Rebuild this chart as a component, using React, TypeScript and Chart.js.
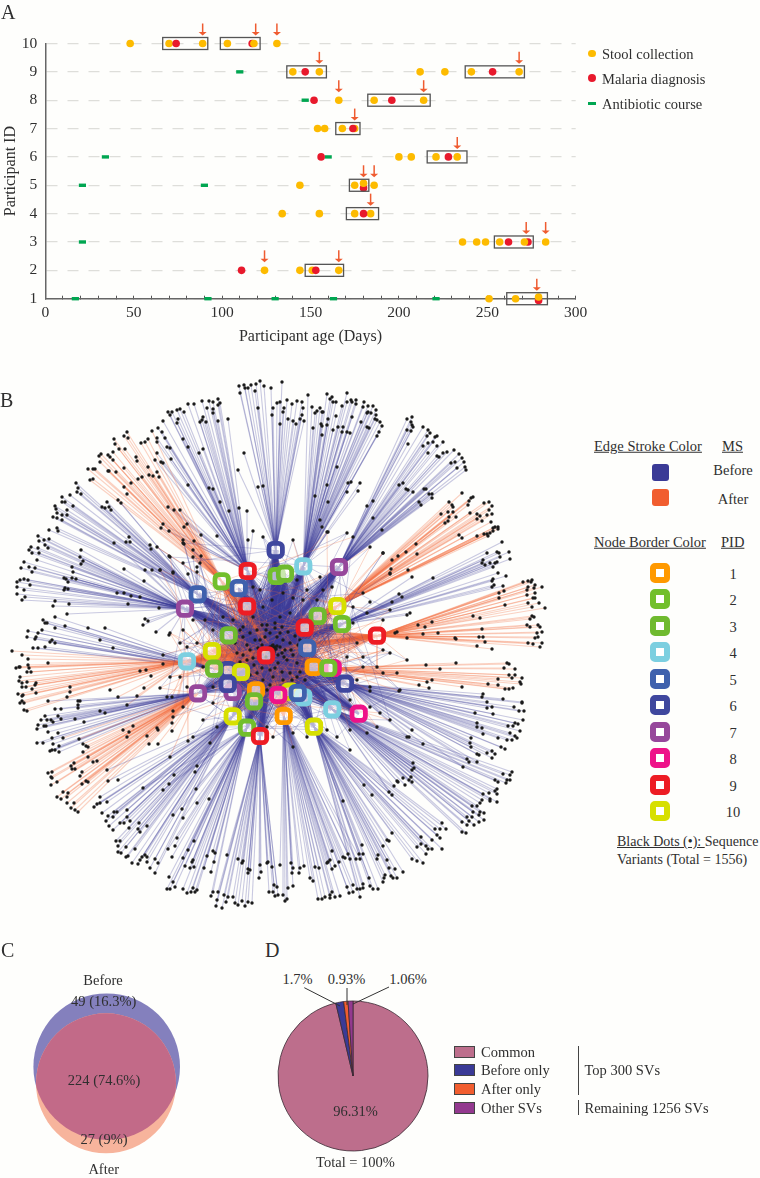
import React, { useEffect, useRef } from "react";
import { Chart, registerables } from "chart.js";

Chart.register(...registerables);

type Pt = [number, number];

const SERIF = "'Liberation Serif', serif";
const INK = "#2f2f2f";
const BEFORE = "#3A3A96";
const AFTER = "#F15D2F";

/* ---------- Panel A ---------- */
const stoolCollection: Pt[] = [
  [48, 10], [70, 10], [89, 10], [103, 10], [131, 10],
  [140, 9], [155, 9], [212, 9], [226, 9], [241, 9], [268, 9],
  [166, 8], [186, 8], [214, 8],
  [154, 7], [158, 7], [168, 7], [175, 7],
  [200, 6], [207, 6], [221, 6], [233, 6],
  [144, 5], [175, 5], [186, 5],
  [134, 4], [155, 4], [175, 4], [184, 4],
  [236, 3], [244, 3], [249, 3], [257, 3], [283, 3],
  [124, 2], [144, 2], [151, 2], [166, 2],
  [251, 1], [266, 1],
];
const stoolOverMalaria: Pt[] = [[118, 10], [180, 5.07], [271, 3], [279, 1.06]];
const malariaDiagnosis: Pt[] = [
  [74, 10], [117, 10], [147, 9], [253, 9], [152, 8], [196, 8], [174, 7], [156, 6], [228, 6],
  [180, 4.9], [180, 4], [262, 3], [273, 3], [111, 2], [153, 2], [279, 0.94],
];
const antibioticCourse: Pt[] = [
  [110, 9], [147, 8], [34, 6], [160, 6], [21, 5], [90, 5], [21, 3],
  [17, 1], [92, 1], [130, 1], [163, 1], [221, 1],
];
const sampleBoxes: [number, number, number][] = [
  [66.4, 91.9, 10], [99, 121.5, 10], [136.6, 159, 9], [237.5, 271, 9], [182.4, 217.7, 8],
  [164.3, 178, 7], [216, 238.5, 6], [172, 183, 5], [170.3, 188.5, 4], [254, 276, 3],
  [147, 168.7, 2], [261, 284, 1],
];
const arrows: Pt[] = [
  [89, 10], [119, 10], [131, 10], [155, 9], [268, 9], [166, 8], [214, 8], [175, 7], [233, 6],
  [180, 5], [186, 5], [184, 4], [272, 3], [283, 3], [124, 2], [166, 2], [278, 1],
];

/* ---------- Panel B: hubs ---------- */
const pidColors = ["#FF9900", "#72BF2C", "#6FBA2F", "#7CCFE0", "#3F61AD", "#3F479E", "#96479B", "#EE1289", "#ED1C24", "#D7DF01"];
const pidLabels = ["1", "2", "3", "4", "5", "6", "7", "8", "9", "10"];
const hubs: Pt[] = [
  [275.7, 550], [247.7, 571], [221.7, 581.3], [238.7, 588], [276.7, 576], [285, 573.7], [303.3, 566.3], [339, 567],
  [197.7, 594.3], [185, 608.7], [247, 606.3], [337.3, 606], [317.7, 616], [342, 624], [304.7, 627.7], [377, 635.7],
  [228.7, 635.3], [307.3, 648], [212, 651], [266, 655.3], [187, 661.3], [332.7, 668], [313.7, 667], [328.3, 668],
  [228, 670], [214, 668.7], [241, 672], [232.7, 692], [227.7, 684], [198, 693.3], [345, 683.7], [290, 691.7],
  [256, 690.3], [303.3, 697.3], [278.3, 695], [297.7, 693], [254, 701.3], [332.3, 709.3], [358.7, 713.7], [283.7, 716],
  [232.7, 716.3], [314, 726.7], [247, 727.7], [260, 736],
];
const hubPid = [6, 9, 2, 5, 2, 3, 4, 7, 5, 7, 9, 10, 3, 2, 9, 9, 3, 5, 10, 9, 4, 8, 1, 2, 6, 3, 10, 7, 6, 7, 6, 10, 1, 4, 8, 5, 3, 4, 8, 1, 10, 10, 2, 9];
const hubAfter = [0, 0, 1, 0, 0, 0, 0, 0, 0, 0, 1, 1, 0, 0, 1, 1, 1, 0, 1, 1, 1, 0, 1, 1, 0, 1, 0, 0, 0, 0, 0, 1, 1, 0, 0, 0, 1, 0, 0, 1, 0, 0, 0, 0];
const heavyHubs: [number, number][] = [
  [0, 6], [6, 5], [7, 7], [8, 6], [9, 6], [13, 5], [30, 6], [37, 5], [38, 3], [41, 5], [43, 6], [28, 5], [20, 4], [15, 5], [25, 3], [42, 4], [2, 3],
];
const heavyTarget: Pt = [272, 650];

/* ---------- Panel B: sequence variants, by fan ---------- */
const leavesA: Pt[] = [[239,386],[244,385],[248,388],[251,385],[256,384],[260,381],[264,386],[240,393],[245,388],[255,391],[258,408],[271,388],[277,403],[273,408],[272,415],[283,412],[244,453],[238,470],[258,487],[263,486],[282,382],[280,402],[287,400],[292,404],[297,401],[302,402],[303,408],[284,408],[302,415],[300,419],[304,421],[288,419],[293,421],[296,424],[280,424]];
const leavesB: Pt[] = [[308,395],[327,394],[332,397],[330,399],[333,402],[336,402],[347,393],[342,406],[347,402],[351,400],[352,402],[356,400],[356,404],[364,402],[368,406],[373,406],[363,407],[376,410],[368,412],[371,413],[367,413],[376,415],[361,422],[375,419],[377,420],[380,422],[382,426],[367,427],[369,428],[379,432],[377,436],[312,407],[317,411],[320,408],[322,412],[323,412],[315,413],[313,428],[321,424],[322,426],[328,419],[336,416],[327,425],[322,435],[333,430],[338,427],[343,427],[342,432],[347,432],[350,433],[352,417],[348,483],[351,482],[360,483],[358,491],[347,492],[337,467],[327,485],[315,496],[328,502],[320,520],[322,527],[328,532]];
const leavesC: Pt[] = [[412,417],[407,419],[411,422],[412,425],[413,427],[407,430],[411,431],[408,444],[423,427],[428,430],[430,433],[427,436],[435,437],[437,436],[433,442],[428,443],[443,442],[423,446],[437,446],[428,453],[447,452],[443,453],[437,456],[439,457],[454,450],[459,454],[462,458],[464,462],[455,462],[451,463],[465,467],[457,468],[466,470],[399,485],[403,483],[406,489],[408,490],[413,492],[424,489],[426,489],[429,494],[432,494],[432,498],[419,502],[421,505],[373,501],[367,506],[373,518],[382,530]];
const leavesD: Pt[] = [[462,493],[473,497],[471,498],[469,501],[468,505],[489,502],[484,503],[492,506],[489,510],[449,502],[452,505],[453,507],[448,512],[453,512],[441,514],[456,517],[449,517],[470,513],[477,514],[480,516],[487,515],[492,514],[482,521],[477,519],[448,521],[445,523],[491,522],[495,527],[498,527],[493,528],[498,529],[493,531],[490,533],[487,534],[488,536],[477,536],[484,534],[459,535],[462,538],[416,544],[406,552],[398,556],[392,560],[417,554],[391,569],[408,570],[390,574],[383,553]];
const leavesE: Pt[] = [[502,542],[509,552],[497,552],[499,553],[487,553],[500,557],[510,559],[483,560],[497,562],[495,563],[482,563],[490,563],[485,565],[493,567],[498,573],[506,576],[493,579],[492,581],[494,585],[503,586],[492,587],[433,578],[412,577],[399,594],[402,597],[392,602],[370,602],[410,613],[407,615]];
const leavesF: Pt[] = [[523,582],[528,581],[532,580],[531,582],[542,587],[528,587],[535,585],[534,588],[527,590],[535,593],[527,595],[533,598],[535,598],[539,603],[528,603],[532,607],[545,608],[504,591],[499,593],[499,598],[505,605],[473,616],[480,618],[532,616],[534,617],[530,619],[527,625],[530,627],[538,625],[540,627],[542,632],[537,633],[535,638],[538,637],[482,629],[455,638],[456,639],[479,637],[483,637],[528,643],[533,644],[542,643],[540,647],[485,642],[477,646],[492,649],[425,627],[438,633],[423,634],[407,638],[397,632],[418,625],[432,622],[395,633]];
const leavesG: Pt[] = [[456,663],[507,663],[504,668],[509,664],[515,669],[509,675],[515,675],[512,678],[522,678],[520,682],[521,684],[498,679],[513,688],[509,689],[505,689],[488,684],[498,685],[462,687],[426,665],[440,669],[432,680],[427,682],[419,685],[429,688],[399,691],[370,691]];
const leavesH: Pt[] = [[483,694],[482,697],[503,699],[522,702],[522,703],[487,702],[492,707],[487,708],[514,707],[519,711],[524,711],[475,713],[493,714],[523,720],[477,723],[515,723],[518,724],[508,726],[477,727],[482,728],[513,726],[520,731],[510,733],[483,734],[515,736],[498,738],[507,740],[512,740],[517,738],[471,738],[470,743],[471,747],[501,747],[505,749],[492,751],[487,753],[495,754],[492,758],[477,754],[479,755],[467,759],[469,762],[477,762],[463,767],[412,730],[423,744],[407,737],[409,737]];
const leavesI: Pt[] = [[512,772],[503,774],[510,775],[495,780],[510,780],[507,780],[498,782],[506,783],[497,789],[495,791],[489,793],[497,794],[483,794],[490,799],[497,802],[490,801],[482,800],[480,803],[472,806],[477,806],[484,813],[480,812],[473,812],[479,815],[467,817],[472,817],[484,820],[479,822],[469,821],[462,822],[474,825],[467,825],[462,832],[466,833],[413,763],[414,768],[412,770],[411,777],[403,778],[409,780],[412,782],[397,781],[398,782],[405,785],[394,786],[389,792],[392,795]];
const leavesJ: Pt[] = [[442,823],[440,829],[435,829],[446,829],[437,835],[440,838],[432,840],[442,849],[432,849],[426,846],[421,837],[421,844],[417,847],[428,849],[426,854],[412,859],[417,861],[423,863],[403,872],[395,869],[389,868],[387,860],[397,878],[393,878],[391,876],[385,875],[384,878],[383,882],[392,833],[387,840],[389,841],[383,846],[372,795],[364,785],[343,801],[362,845],[363,854],[359,854],[369,878],[378,889],[370,886],[373,889],[378,855],[377,859],[363,884],[363,888],[360,889],[357,889],[360,897]];
const leavesK: Pt[] = [[332,851],[330,860],[328,862],[327,863],[343,857],[345,858],[348,854],[350,859],[356,859],[360,859],[339,862],[335,866],[332,869],[315,867],[319,868],[310,878],[313,881],[353,885],[347,887],[353,892],[349,893],[340,896],[335,897],[332,892],[330,895],[325,897],[322,899],[318,899],[330,898],[293,886],[288,888],[283,895],[285,901],[287,899],[293,868],[292,873],[291,863],[300,868],[299,873],[304,866],[280,865]];
const leavesL: Pt[] = [[267,863],[268,862],[260,865],[272,867],[261,872],[259,878],[248,869],[250,870],[248,873],[238,859],[243,861],[242,863],[227,855],[274,885],[277,887],[269,892],[273,892],[278,895],[275,896],[252,903],[248,902],[245,906],[242,901],[238,905],[235,903],[233,897],[222,908],[216,906],[217,900],[218,892],[224,895],[228,897],[226,902]];
const leavesL1: Pt[] = [[213,851],[215,853],[214,862],[211,872],[213,892],[211,896],[197,890],[193,888],[195,892],[187,893],[191,892],[183,889],[175,887],[170,889],[173,882],[167,889],[169,877],[204,868],[207,856],[194,867],[190,868],[193,860],[192,862],[185,866],[183,858],[172,857],[188,850],[194,841],[177,838],[168,849],[175,846],[183,818],[182,809],[173,815],[197,803],[209,799],[163,790],[169,784],[196,789],[143,788],[174,775],[195,772],[197,766]];
const leavesM: Pt[] = [[155,873],[150,868],[158,863],[155,859],[147,862],[142,857],[138,864],[147,857],[132,863],[145,855],[140,860],[135,849],[126,857],[128,856],[118,852],[121,853],[126,847],[118,846],[116,841],[120,841],[140,832],[138,829],[147,826],[129,828],[113,830],[109,826],[106,821],[120,823],[124,823],[130,821],[113,817],[108,816],[117,812],[127,810],[127,817],[114,812],[139,823],[102,813],[94,807],[97,804],[100,803],[107,802],[100,797],[118,780],[107,770],[108,781]];
const leavesN: Pt[] = [[78,812],[75,810],[71,808],[74,803],[67,803],[67,797],[63,792],[68,793],[57,797],[61,799],[52,772],[48,773],[51,777],[52,778],[57,782],[51,785],[82,784],[86,781],[88,782],[80,776],[82,772],[71,766],[74,763],[72,769],[75,769],[88,757],[93,762],[97,761],[83,752],[88,747],[86,746],[83,744],[79,739],[63,738],[123,730],[127,737],[129,732],[133,726],[147,736],[157,728],[158,730],[172,731],[149,744],[158,744],[170,757]];
const leavesO: Pt[] = [[37,743],[43,743],[53,744],[59,746],[55,750],[50,751],[52,750],[59,752],[52,738],[58,733],[48,732],[37,729],[44,726],[46,726],[38,725],[41,720],[45,716],[53,722],[51,720],[47,720],[58,716],[61,719],[75,719],[84,722],[55,709],[61,709],[78,701],[80,701],[78,705],[78,708],[100,711],[105,713],[48,701]];
const leavesP: Pt[] = [[12,651],[22,655],[28,659],[28,665],[29,668],[16,668],[19,667],[20,667],[27,672],[31,672],[20,677],[19,681],[22,683],[27,682],[36,683],[35,685],[22,687],[26,687],[32,689],[36,693],[18,694],[23,695],[22,696],[22,701],[20,703],[24,703],[24,710],[27,711],[48,663],[70,687],[70,692],[67,697],[110,690],[118,697],[127,705],[137,696],[144,688],[163,664],[140,671],[146,670],[151,676],[172,697],[173,711],[172,723],[188,741]];
const leavesQ: Pt[] = [[28,631],[36,637],[38,633],[42,630],[45,623],[43,620],[55,617],[47,623],[55,628],[65,626],[88,628],[105,628],[100,640],[50,642],[55,643],[52,640],[33,648],[38,648],[27,637],[35,639],[45,647],[113,648]];
const leavesR: Pt[] = [[17,582],[20,580],[24,579],[28,580],[17,587],[24,590],[17,594],[25,597],[22,600],[30,585],[32,572],[21,568],[24,562],[29,567],[35,568],[37,560],[29,550],[31,547],[32,553],[38,536],[39,541],[38,548],[44,540],[45,545],[48,548],[49,539],[39,553],[64,578],[66,579],[72,578],[76,579],[68,582],[65,588],[68,589],[64,590],[55,601],[53,606],[69,604],[81,550],[80,557],[83,561],[81,564],[72,567],[73,572],[114,543],[124,569],[145,570],[152,570],[160,570],[173,572],[144,581],[117,593],[124,593],[131,596],[140,597],[128,604],[159,608],[67,614],[145,619],[143,625],[148,621],[156,632],[169,635]];
const leavesS: Pt[] = [[76,483],[78,488],[77,492],[81,494],[70,495],[62,497],[65,502],[62,502],[55,506],[56,509],[67,510],[73,506],[57,513],[53,517],[57,518],[62,515],[67,515],[62,520],[57,528],[58,531],[49,530],[102,507],[105,508],[109,507],[111,510],[107,502],[118,500],[121,503],[129,537],[126,542],[130,542],[150,545],[151,549],[169,556],[183,540],[184,544],[193,557],[197,567],[197,572],[201,556],[188,574],[173,573]];
const leavesT: Pt[] = [[88,469],[93,469],[95,469],[100,462],[99,456],[101,454],[90,480],[93,479],[108,471],[109,471],[124,468],[116,472],[108,455],[110,457],[113,452],[115,444],[114,439],[113,460],[125,449],[127,432],[124,436],[128,438],[119,449],[136,457],[137,461],[148,467],[149,475],[153,476],[159,477],[157,472],[142,477],[138,479],[131,483],[124,487],[127,494],[141,443],[145,442],[148,439],[152,431]];
const leavesU: Pt[] = [[158,428],[157,438],[157,442],[162,432],[163,421],[168,412],[172,412],[170,415],[177,410],[178,419],[177,423],[180,409],[184,412],[188,404],[194,404],[202,401],[209,401],[213,402],[218,399],[220,403],[207,408],[213,409],[218,405],[213,413],[203,417],[202,420],[206,422],[200,422],[218,421],[228,419],[183,439],[167,447],[170,448],[157,453],[165,438],[188,447],[203,449],[199,453],[155,460],[161,462],[163,463],[171,459],[188,485],[209,488],[213,489],[168,507],[174,510],[180,510],[187,524],[184,527],[163,524],[161,528],[169,531],[194,541],[220,502],[239,508],[229,511],[247,511],[248,540],[253,531],[217,536],[201,535]];
const coreDots: Pt[] = [[270,647],[272,646],[273,648],[271,649],[274,650],[272,650],[275,647],[276,649],[270,650],[273,645],[269,648],[277,646],[274,652],[271,652],[267,625],[257,630],[250,633],[243,637],[260,640],[270,633],[282,627],[283,640],[290,643],[282,653],[293,655],[287,660],[297,663],[278,663],[270,670],[257,673],[263,680],[250,650],[247,660],[237,653],[235,643],[253,658],[290,673],[273,677],[283,680],[297,677],[262,625],[275,628],[280,633],[288,632],[295,636],[298,645],[302,655],[262,645],[258,648],[266,657],[280,647],[285,650],[291,650],[278,655],[284,657],[268,662],[262,668],[275,668],[282,672],[292,680],[300,672],[305,680],[247,645],[243,655],[240,662],[254,665],[250,675],[266,630],[277,637],[265,637],[255,640],[300,640],[240,630],[262,690],[270,685],[280,688]];
const midDots: Pt[] = [[267,690],[260,697],[243,627],[233,620],[253,617],[263,607],[272,600],[283,593],[293,598],[290,613],[280,617],[275,623],[303,600],[307,590],[320,577],[323,590],[317,600],[332,587],[297,580],[260,590],[253,587],[223,617],[213,630],[205,620],[193,620],[183,630],[180,643],[197,643],[170,633],[163,655],[187,647],[203,667],[170,677],[160,688],[167,697],[180,677],[187,687],[213,703],[213,687],[183,707],[173,717],[203,720],[217,727],[193,737],[210,743],[267,727],[273,737],[293,733],[293,747],[307,737],[327,730],[337,737],[350,730],[367,733],[350,750],[377,727],[390,720],[380,713],[370,707],[350,700],[370,687],[383,673],[400,690],[357,680],[363,667],[377,667],[397,673],[390,653],[407,660],[383,650],[357,643],[363,657],[347,657],[353,623],[367,613],[353,607],[383,620],[390,610],[363,593],[390,573],[383,553],[370,547],[353,537],[347,533],[327,532],[293,540],[263,537],[193,550],[183,543],[170,557],[160,570],[157,547],[200,563],[183,563]];

/* fan: leaves, hub index, 0 = before / 1 = after */
const fans: [Pt[], number, number][] = [
  [leavesA, 0, 0], [leavesB, 6, 0], [leavesC, 7, 0], [leavesD, 11, 1], [leavesE, 13, 0], [leavesF, 15, 1],
  [leavesG, 23, 1], [leavesH, 30, 0], [leavesI, 37, 0], [leavesJ, 41, 0], [leavesK, 39, 0], [leavesL, 43, 0],
  [leavesL1, 42, 0], [leavesM, 40, 0], [leavesN, 29, 1], [leavesO, 29, 0], [leavesP, 20, 1], [leavesQ, 25, 0],
  [leavesR, 9, 0], [leavesS, 8, 0], [leavesT, 2, 1], [leavesU, 1, 0],
];

/* ---------- Panels C and D ---------- */
const vennBefore = { x: 106.7, y: 1066.7, r: 73.3 };
const vennAfter = { x: 106, y: 1083.3, r: 70 };
const pieLabels = ["Common", "Before only", "After only", "Other SVs"];
const pieValues = [96.31, 1.7, 0.93, 1.06];
const pieColors = ["#BD6E8C", "#3A3A96", "#F15D2F", "#93398F"];

const T = ({ x, y, c, size = 14.5, u, children }: any) => (
  <div style={{
    position: "absolute", left: x, top: y, whiteSpace: "nowrap", lineHeight: 1, color: INK, fontFamily: SERIF, fontSize: size,
    transform: `translate(${c ? "-50%" : "0"},-50%)`, textDecoration: u ? "underline" : "none",
  }}>{children}</div>
);
const Cv = React.forwardRef<HTMLCanvasElement, any>(({ x, y, w, h }, ref) => (
  <canvas ref={ref} width={w} height={h} style={{ position: "absolute", left: x, top: y, width: w, height: h }} />
));

export default function App() {
  const a = useRef<HTMLCanvasElement>(null);
  const b = useRef<HTMLCanvasElement>(null);
  const c = useRef<HTMLCanvasElement>(null);
  const d = useRef<HTMLCanvasElement>(null);

  useEffect(() => {
    const charts: Chart[] = [];
    Chart.defaults.font.family = SERIF;
    Chart.defaults.color = INK;
    const xy = (p: Pt) => ({ x: p[0], y: p[1] });
    const off = { legend: { display: false }, tooltip: { enabled: false } };

    /* Panel A */
    const pts = (data: Pt[], color: string, order: number) => ({
      data: data.map(xy), backgroundColor: color, borderColor: color, borderWidth: 0, pointRadius: 3.8, order, clip: false,
    });
    const annotate = {
      id: "annotate",
      afterDatasetsDraw(chart: any) {
        const { ctx, scales: { x, y } } = chart;
        ctx.save();
        ctx.strokeStyle = "#555";
        ctx.lineWidth = 1.3;
        sampleBoxes.forEach(([x0, x1, p]) => {
          ctx.strokeRect(x.getPixelForValue(x0), y.getPixelForValue(p) - 6, x.getPixelForValue(x1) - x.getPixelForValue(x0), 12);
        });
        ctx.strokeStyle = ctx.fillStyle = "#EF5B30";
        arrows.forEach(([v, p]) => {
          const px = x.getPixelForValue(v), py = y.getPixelForValue(p);
          ctx.lineWidth = 1.5;
          ctx.beginPath(); ctx.moveTo(px, py - 20); ctx.lineTo(px, py - 10); ctx.stroke();
          ctx.beginPath(); ctx.moveTo(px - 4, py - 11.5); ctx.lineTo(px + 4, py - 11.5); ctx.lineTo(px, py - 8); ctx.closePath(); ctx.fill();
        });
        ctx.restore();
      },
    };
    charts.push(new Chart(a.current!, {
      type: "scatter",
      data: {
        datasets: [
          pts(stoolOverMalaria, "#FDBB00", 1),
          pts(malariaDiagnosis, "#E8192C", 2),
          pts(stoolCollection, "#FDBB00", 3),
          { data: antibioticCourse.map(xy), pointStyle: "line", pointRadius: 3.6, borderColor: "#00A651", backgroundColor: "#00A651", pointBorderWidth: 3.4, order: 4, clip: false },
        ] as any,
      },
      plugins: [annotate],
      options: {
        responsive: false, animation: false, events: [],
        layout: { autoPadding: false, padding: { left: 0, right: 184.3, top: 43.5, bottom: 0 } },
        plugins: off as any,
        scales: {
          x: {
            type: "linear", min: 0, max: 300,
            afterFit: (s: any) => { s.height = 49.3; },
            ticks: { stepSize: 10, autoSkip: false, maxRotation: 0, padding: 8, font: { size: 15.5 }, color: INK, callback: (v: any) => (v % 50 === 0 ? String(v) : "") },
            grid: { drawOnChartArea: false, tickLength: -3, tickColor: "#555", tickWidth: 1 },
            border: { color: "#666", width: 1.5 },
            title: { display: true, text: "Participant age (Days)", font: { size: 16 }, color: INK, padding: { top: 0, bottom: 2 } },
          },
          y: {
            type: "linear", min: 1, max: 10,
            afterFit: (s: any) => { s.width = 45.3; },
            ticks: { stepSize: 1, autoSkip: false, padding: 8, font: { size: 15.5 }, color: INK },
            grid: { drawTicks: false, color: "#DEDEDA", lineWidth: 1.3 },
            border: { color: "#666", width: 1.5, dash: [11, 10] },
            title: { display: true, text: "Participant ID", font: { size: 16 }, color: INK, padding: { top: 1, bottom: 0 } },
          },
        },
      } as any,
    }));

    /* Panel B */
    const edgeColor = ["rgba(60,60,150,0.27)", "rgba(242,106,60,0.3)"];
    const edge = (p: Pt, q: Pt, color: string, width: number) => ({
      data: [xy(p), xy(q)], showLine: true, pointRadius: 0, borderColor: color, borderWidth: width, order: 5,
    });
    const networkSets: any[] = [];
    hubs.forEach((h, i) => {
      const lines: any[] = [];
      coreDots.forEach((p) => lines.push(xy(h), xy(p), { x: NaN, y: NaN }));
      networkSets.push({ data: lines, showLine: true, spanGaps: false, pointRadius: 0, borderColor: hubAfter[i] ? "rgba(238,100,60,0.36)" : "rgba(60,60,150,0.34)", borderWidth: 0.8, order: 6 });
    });
    midDots.forEach((p, i) => {
      [(i * 7) % hubs.length, (i * 17 + 3) % hubs.length, (i * 29 + 11) % hubs.length].forEach((h) => {
        networkSets.push(edge(hubs[h], p, edgeColor[hubAfter[h]], 0.9));
      });
    });
    fans.forEach(([leaves, h, ms]) => leaves.forEach((p) => networkSets.push(edge(hubs[h], p, edgeColor[ms], 1.1))));
    heavyHubs.forEach(([h, w]) => networkSets.push(edge(hubs[h], heavyTarget, hubAfter[h] ? "rgba(235,95,50,0.55)" : "rgba(62,58,150,0.68)", w)));
    const allDots = [...fans.flatMap((f) => f[0]), ...coreDots, ...midDots];
    charts.push(new Chart(b.current!, {
      type: "scatter",
      data: {
        datasets: [
          {
            data: hubs.map(xy), pointStyle: "rectRounded", pointRadius: 7.8, pointBorderWidth: 4.8,
            pointBackgroundColor: "rgba(255,255,255,0.62)", pointBorderColor: hubPid.map((p) => pidColors[p - 1]), order: 0,
          },
          { data: allDots.map(xy), pointRadius: 1.7, pointBorderWidth: 0, pointBackgroundColor: "#1b1b1b", order: 1 },
          ...networkSets,
        ],
      },
      options: {
        responsive: false, animation: false, events: [],
        layout: { autoPadding: false, padding: 0 },
        plugins: off as any,
        scales: {
          x: { type: "linear", display: false, min: 0, max: 560 },
          y: { type: "linear", display: false, min: 370, max: 915, reverse: true },
        },
      } as any,
    }));

    /* Panel C */
    const clipOverlap = {
      id: "clipOverlap",
      beforeDatasetDraw(chart: any, args: any) {
        if (args.index !== 2) return;
        const p = chart.getDatasetMeta(0).data[0];
        chart.ctx.save();
        chart.ctx.beginPath();
        chart.ctx.arc(p.x, p.y, p.options.radius, 0, Math.PI * 2);
        chart.ctx.clip();
      },
      afterDatasetDraw(chart: any, args: any) {
        if (args.index === 2) chart.ctx.restore();
      },
    };
    charts.push(new Chart(c.current!, {
      type: "bubble",
      data: {
        datasets: [
          { data: [vennBefore], backgroundColor: "#8480BD", borderWidth: 0, order: 3, clip: false },
          { data: [vennAfter], backgroundColor: "#F7B49C", borderWidth: 0, order: 2, clip: false },
          { data: [vennAfter], backgroundColor: "#C26A88", borderWidth: 0, order: 1, clip: false },
        ],
      },
      plugins: [clipOverlap],
      options: {
        responsive: false, animation: false, events: [],
        layout: { autoPadding: false, padding: 0 },
        plugins: off as any,
        scales: {
          x: { type: "linear", display: false, min: 20, max: 195 },
          y: { type: "linear", display: false, min: 985, max: 1170, reverse: true },
        },
      } as any,
    }));

    /* Panel D */
    charts.push(new Chart(d.current!, {
      type: "pie",
      data: { labels: pieLabels, datasets: [{ data: pieValues, backgroundColor: pieColors, borderColor: "#3a2a33", borderWidth: 0.8 }] },
      options: { responsive: false, animation: false, events: [], radius: 75, plugins: off as any } as any,
    }));

    return () => charts.forEach((ch) => ch.destroy());
  }, []);

  const nodeYs = [573.3, 599, 625.7, 652.3, 678.7, 705.3, 731.7, 758.3, 785, 810.7];
  const legendYs = [1051.7, 1070.3, 1089.3, 1108.3];
  const leftLine = { position: "absolute" as const, left: 577.7, width: 1.3, background: "#444" };

  return (
    <div style={{ position: "absolute", left: 0, top: 0, width: 760, height: 1178, overflow: "hidden", background: "#FEFEFC" }}>
      <Cv ref={a} x={0} y={0} w={760} h={348} />
      <Cv ref={b} x={0} y={370} w={560} h={545} />
      <Cv ref={c} x={20} y={985} w={175} h={185} />
      <Cv ref={d} x={272.7} y={996.4} w={160} h={160} />

      <T x={1} y={12} size={20}>A</T>
      <T x={0} y={400} size={20}>B</T>
      <T x={1} y={950} size={20}>C</T>
      <T x={265} y={950} size={20}>D</T>

      {/* Panel A legend */}
      {["Stool collection", "Malaria diagnosis", "Antibiotic course"].map((s, i) => (
        <T key={s} x={602} y={[53.5, 78.5, 103.5][i]}>{s}</T>
      ))}
      <div style={{ position: "absolute", left: 588.3, top: 49.6, width: 7.4, height: 7.4, borderRadius: 4, background: "#FDBB00" }} />
      <div style={{ position: "absolute", left: 588.3, top: 74.3, width: 7.4, height: 7.4, borderRadius: 4, background: "#E8192C" }} />
      <div style={{ position: "absolute", left: 588.3, top: 101.5, width: 7.4, height: 3.6, background: "#00A651" }} />

      {/* Panel B legend */}
      <T x={594} y={446} u>Edge Stroke Color</T>
      <T x={722} y={446} u>MS</T>
      <T x={733} y={470} c>Before</T>
      <T x={733} y={499} c>After</T>
      <div style={{ position: "absolute", left: 652.3, top: 464, width: 17, height: 17, borderRadius: 3, background: BEFORE }} />
      <div style={{ position: "absolute", left: 652.3, top: 489, width: 17, height: 17, borderRadius: 3, background: AFTER }} />
      <T x={594} y={542} u>Node Border Color</T>
      <T x={721} y={542} u>PID</T>
      {pidLabels.map((p, i) => (
        <React.Fragment key={p}>
          <div style={{ position: "absolute", left: 650, top: nodeYs[i] - 10, width: 20, height: 20, boxSizing: "border-box", border: `6px solid ${pidColors[i]}`, borderRadius: 5, background: "#fff" }} />
          <T x={733} y={nodeYs[i] + 1} c>{p}</T>
        </React.Fragment>
      ))}
      <T x={617} y={842} size={14}><span style={{ textDecoration: "underline" }}>Black Dots (•): </span>Sequence</T>
      <T x={617} y={860} size={14}>Variants (Total = 1556)</T>

      {/* Panel C labels */}
      <T x={103} y={980} c>Before</T>
      <T x={103.7} y={1000.7} c>49 (16.3%)</T>
      <T x={104} y={1080} c>224 (74.6%)</T>
      <T x={104} y={1139} c>27 (9%)</T>
      <T x={103.7} y={1169} c>After</T>

      {/* Panel D labels */}
      <T x={297.5} y={979} c>1.7%</T>
      <T x={346.5} y={979} c>0.93%</T>
      <T x={408} y={979} c>1.06%</T>
      <svg width={760} height={1178} style={{ position: "absolute", left: 0, top: 0, pointerEvents: "none" }}>
        <line x1={304.3} y1={987.7} x2={340} y2={1006} stroke="#333" strokeWidth={1} />
        <line x1={347} y1={988} x2={347} y2={1005} stroke="#333" strokeWidth={1} />
        <line x1={389} y1={987} x2={353} y2={1004} stroke="#333" strokeWidth={1} />
      </svg>
      <T x={355.5} y={1111} c>96.31%</T>
      <T x={355.5} y={1162} c>Total = 100%</T>
      {pieLabels.map((s, i) => (
        <React.Fragment key={s}>
          <div style={{ position: "absolute", left: 454.3, top: legendYs[i] - 6, width: 21, height: 12, boxSizing: "border-box", border: "1px solid #444", background: pieColors[i] }} />
          <T x={481} y={legendYs[i]}>{s}</T>
        </React.Fragment>
      ))}
      <div style={{ ...leftLine, top: 1046, height: 48.7 }} />
      <div style={{ ...leftLine, top: 1100, height: 14.7 }} />
      <T x={584.5} y={1070}>Top 300 SVs</T>
      <T x={584.5} y={1108}>Remaining 1256 SVs</T>
    </div>
  );
}
